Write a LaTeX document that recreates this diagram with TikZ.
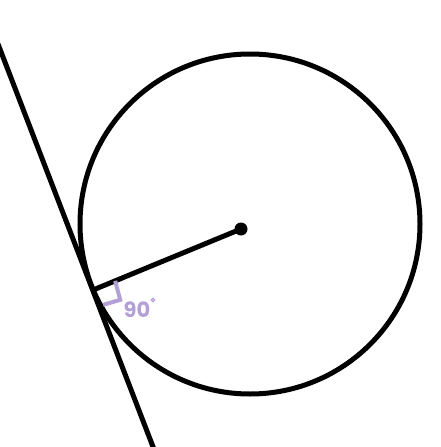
\documentclass[tikz,border=0pt]{standalone}
\usepackage{fontspec}
\newfontfamily\handfont{Poppins}
\usetikzlibrary{calc}
\definecolor{anglelilac}{RGB}{178,160,214}

\begin{document}
\begin{tikzpicture}[x=1pt, y=-1pt, line width=5pt]

  \useasboundingbox (0,0) rectangle (440,447);

  % Circle
  \draw (250,224) circle (170pt);

  % Centre and tangent point
  \draw (241,229) node[circle, fill=black, inner sep=0pt, minimum size=13pt] (centre) {};
  \coordinate (touch) at (93,290);

  % Tangent line
  \coordinate (tantop) at (-2,44);
  \coordinate (tanbot) at (155,452);
  \draw (tantop) -- (tanbot);

  % Radius
  \draw (centre.center) -- (touch);

  % Right angle
  \draw[anglelilac, line width=4pt] ($(touch)!24pt!(centre.center)$) -- ++(5,19) -- ++(-17,5);
  \draw(137,310) node[anglelilac, font=\handfont\fontsize{21}{21}\selectfont\bfseries] (rightangle) {90};
  \draw(153,300) node[draw=anglelilac, circle, line width=1.2pt, inner sep=0pt, minimum size=3.5pt] (degree) {};

\end{tikzpicture}
\end{document}
